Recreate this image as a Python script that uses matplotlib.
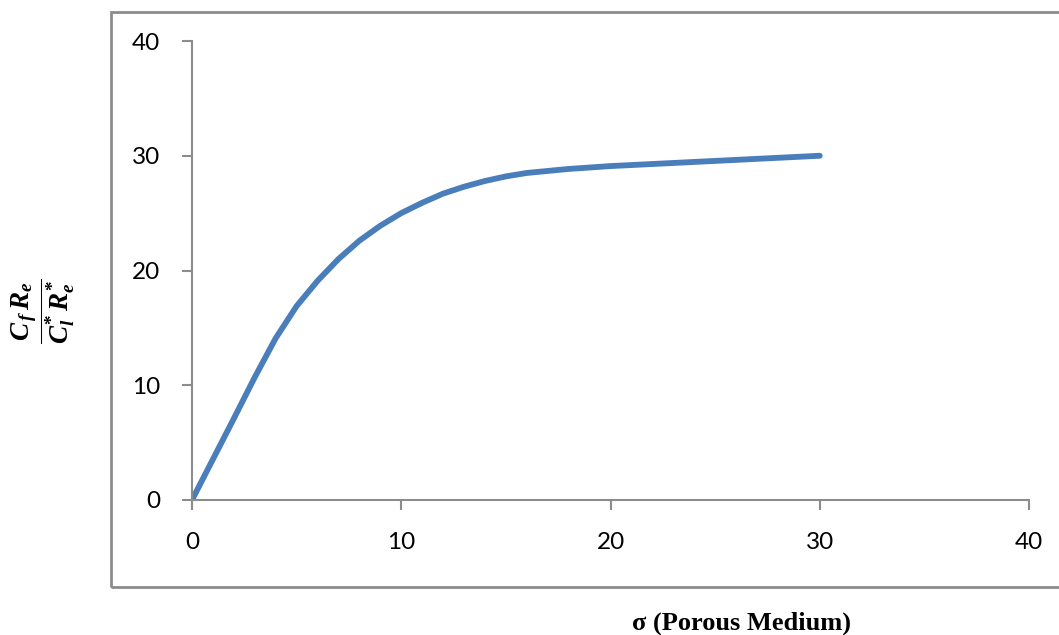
import matplotlib
matplotlib.use("Agg")
import matplotlib.pyplot as plt
from matplotlib.patches import Rectangle

# Data
sigma = [0, 1, 2, 3, 4, 5, 6, 7, 8, 9, 10, 11, 12, 13, 14, 15, 16, 18, 20, 25, 30]
ratio = [0, 3.55, 7.1, 10.7, 14.1, 16.9, 19.1, 21.0, 22.6, 23.9, 25.0, 25.9, 26.7,
         27.3, 27.8, 28.2, 28.5, 28.85, 29.1, 29.55, 30.0]
x_ticks = [0, 10, 20, 30, 40]
y_ticks = [0, 10, 20, 30, 40]

plt.rcParams['mathtext.fontset'] = 'custom'
plt.rcParams['mathtext.it'] = 'Liberation Serif:bold:italic'
plt.rcParams['mathtext.rm'] = 'Liberation Serif:bold'
plt.rcParams['mathtext.bf'] = 'Liberation Serif:bold'

W, H = 1059, 635
fig = plt.figure(figsize=(W / 100, H / 100), dpi=100)

# outer chart frame
fig.patches.append(Rectangle((111 / W, (H - 587) / H), (1070 - 111) / W, (587 - 12) / H,
                             transform=fig.transFigure, fill=False,
                             edgecolor='#8c8c8c', linewidth=2.0))

ax = fig.add_axes([192 / W, (H - 500) / H, 837 / W, 459 / H])
ax.plot(sigma, ratio, color='#4a7ebb', linewidth=4.2, solid_capstyle='round',
        solid_joinstyle='round')
ax.set_xlim(0, 40)
ax.set_ylim(0, 40)
ax.set_xticks(x_ticks)
ax.set_yticks(y_ticks)
for s in ['top', 'right']:
    ax.spines[s].set_visible(False)
for s in ['left', 'bottom']:
    ax.spines[s].set_color('#8c8c8c')
    ax.spines[s].set_linewidth(1.5)
ax.tick_params(direction='out', length=7, width=1.5, color='#8c8c8c',
               labelsize=17.5, labelcolor='black')
ax.tick_params(axis='x', pad=16)
ax.tick_params(axis='y', pad=16)
for lab in ax.get_xticklabels() + ax.get_yticklabels():
    lab.set_fontfamily('Lato')
ax.patch.set_visible(False)

fig.text(742 / W, 1 - 623 / H, 'σ (Porous Medium)', ha='center', va='center',
         fontsize=19, fontweight='bold', family='Liberation Serif')
fig.text(43 / W, 1 - 311 / H, r'$\dfrac{C_{\,f}\, R_e}{C_l^{*}\, R_e^{*}}$', ha='center',
         va='center', rotation=90, fontsize=19.5)

fig.savefig('out.png', dpi=100)
